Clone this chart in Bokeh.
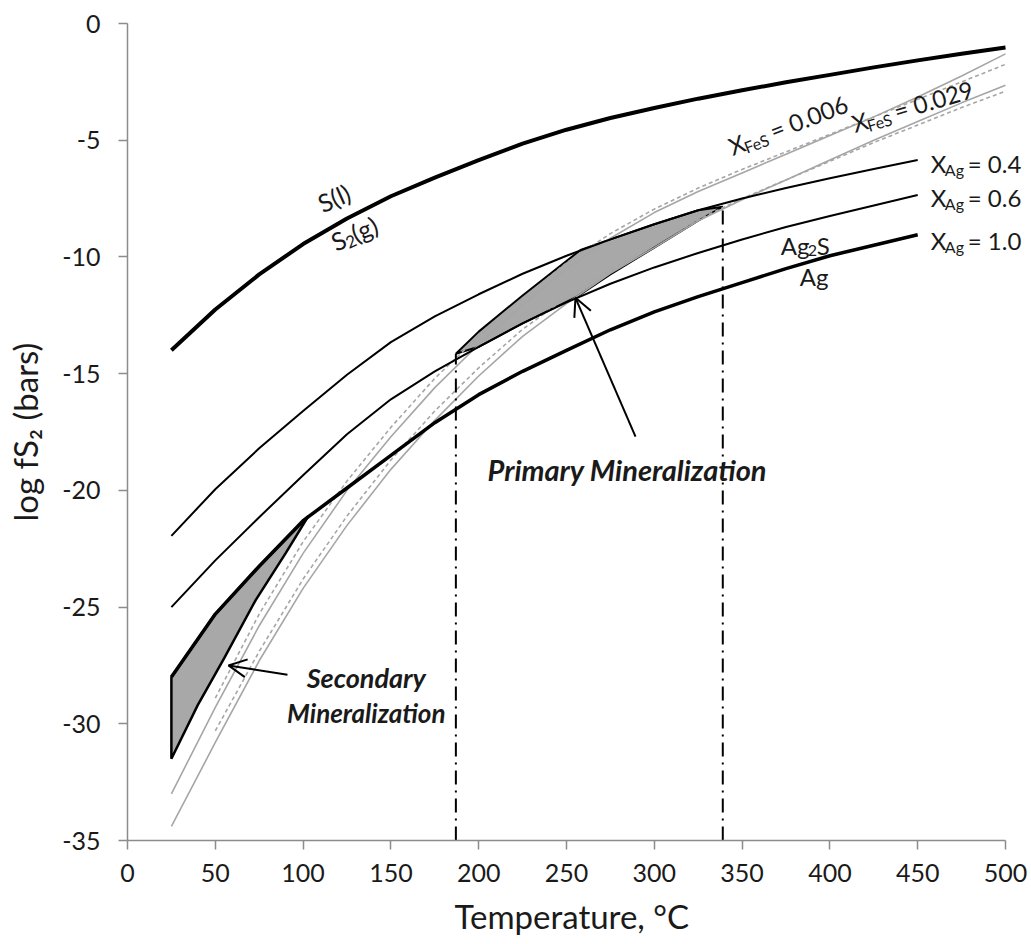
import math
from bokeh.plotting import figure
from bokeh.models import Range1d, Arrow, OpenHead, FixedTicker, Label, Title
from bokeh.embed import file_html
from bokeh.resources import INLINE

# ---------------- data ----------------
x_ticks = [0, 50, 100, 150, 200, 250, 300, 350, 400, 450, 500]
y_ticks = [0, -5, -10, -15, -20, -25, -30, -35]
y_tick_labels = ["0", "-5", "-10", "-15", "-20", "-25", "-30", "-35"]

temp_s = [25, 50, 75, 100, 125, 150, 175, 200, 225, 250, 275, 300, 325, 350, 375, 400, 425, 450, 475, 500]
s_liquid_gas = [-14.0, -12.25, -10.75, -9.45, -8.35, -7.4, -6.6, -5.85, -5.15, -4.55, -4.05, -3.62,
                -3.22, -2.86, -2.52, -2.2, -1.88, -1.58, -1.3, -1.03]

temp_ag = [25, 50, 75, 100, 125, 150, 175, 200, 225, 250, 275, 300, 325, 350, 375, 400, 425, 450]
x_ag_04 = [-21.95, -19.95, -18.2, -16.6, -15.05, -13.65, -12.55, -11.6, -10.72, -9.95, -9.25, -8.6,
           -8.0, -7.5, -7.05, -6.63, -6.23, -5.85]
x_ag_06 = [-25.0, -23.0, -21.15, -19.35, -17.6, -16.1, -14.9, -13.85, -12.85, -11.95, -11.15, -10.45,
           -9.83, -9.25, -8.72, -8.25, -7.8, -7.35]
x_ag_10 = [-28.0, -25.3, -23.25, -21.3, -19.9, -18.5, -17.1, -15.9, -14.9, -14.0, -13.12, -12.35,
           -11.7, -11.1, -10.5, -9.95, -9.5, -9.05]

temp_fes = [25, 50, 75, 100, 125, 150, 175, 200, 225, 250, 275, 300, 325, 350, 375, 400, 425, 450, 475, 500]
fes_0006 = [-33.0, -29.3, -25.8, -22.7, -20.0, -17.7, -15.6, -13.75, -12.05, -10.5, -9.2, -8.1,
            -7.2, -6.4, -5.6, -4.8, -4.0, -3.15, -2.25, -1.3]
fes_0029 = [-34.4, -30.8, -27.3, -24.2, -21.5, -19.1, -17.0, -15.1, -13.4, -12.0, -10.7, -9.6,
            -8.45, -7.55, -6.7, -5.85, -5.0, -4.2, -3.4, -2.65]
temp_fes_d = [50, 75, 100, 125, 150, 175, 200, 225, 250, 275, 300, 325, 350, 375, 400, 425, 450, 475, 500]
fes_0006_d = [-28.9, -25.3, -22.2, -19.6, -17.3, -15.2, -13.4, -11.8, -10.25, -9.0, -7.95, -7.05,
              -6.25, -5.5, -4.75, -4.0, -3.25, -2.5, -1.75]
fes_0029_d = [-30.3, -26.9, -23.8, -21.1, -18.7, -16.6, -14.75, -13.1, -11.75, -10.55, -9.45, -8.4,
              -7.5, -6.7, -5.9, -5.1, -4.35, -3.6, -2.9]

primary_t = [187, 200, 225, 258, 275, 300, 325, 339, 325, 300, 275, 256, 225, 200, 187]
primary_y = [-14.15, -13.2, -11.65, -9.7, -9.25, -8.6, -8.0, -7.85, -8.45, -9.6, -10.75, -11.7,
             -12.85, -13.85, -14.15]
secondary_t = [25, 50, 75, 103, 90, 73, 55, 40, 25]
secondary_y = [-28.0, -25.3, -23.25, -21.1, -22.7, -24.7, -27.2, -29.2, -31.5]

bound_t = [187, 339]
bound_top = [-14.15, -7.85]

FONT = "Lato"
W, H = 1031, 944
L, T, B = 127, 23, 102
X_AXIS_END = 500
PX_X = (1005 - L) / 500.0            # pixels per degree
X_VIEW_END = (W - L) / PX_X          # frame runs to the canvas edge so labels are not clipped
PX_Y = (H - T - B) / 35.0

p = figure(width=W, height=H, x_range=Range1d(0, X_VIEW_END), y_range=Range1d(-35, 0),
           output_backend="svg", toolbar_location=None,
           min_border_left=L, min_border_right=0, min_border_top=T, min_border_bottom=B)
p.outline_line_color = None
p.grid.visible = False
p.background_fill_color = "white"

for ax in (p.xaxis[0], p.yaxis[0]):
    ax.axis_line_color = "#8c8c8c"
    ax.axis_line_width = 1.5
    ax.major_tick_line_color = "#8c8c8c"
    ax.major_tick_line_width = 1.5
    ax.major_tick_out = 9
    ax.major_tick_in = 0
    ax.minor_tick_line_color = None
    ax.major_label_text_font = FONT
    ax.major_label_text_font_size = "25px"
    ax.major_label_text_color = "#1a1a1a"
    ax.axis_label_text_font = FONT
    ax.axis_label_text_font_size = "33px"
    ax.axis_label_text_font_style = "normal"
    ax.axis_label_text_color = "#1a1a1a"

p.xaxis.bounds = (0, X_AXIS_END)
p.xaxis.ticker = FixedTicker(ticks=x_ticks)
p.yaxis.ticker = FixedTicker(ticks=y_ticks)
p.yaxis.major_label_overrides = {t: s for t, s in zip(y_ticks, y_tick_labels)}
p.yaxis.axis_label = "log fS\u2082 (bars)"
p.xaxis.major_label_standoff = 14
p.yaxis.major_label_standoff = 18
p.yaxis.axis_label_standoff = 14

# x-axis title, centred under the 0-500 axis (not under the wider frame)
x_title = Title(text="Temperature, °C", align="left", offset=327, standoff=18,
                text_font=FONT, text_font_size="33px", text_font_style="normal",
                text_line_height=0.6, text_color="#1a1a1a")
p.add_layout(x_title, "below")

# polygons
p.patch(primary_t, primary_y, fill_color="#a8a8a8", line_color="black", line_width=2)
p.patch(secondary_t, secondary_y, fill_color="#a8a8a8", line_color="black", line_width=2.5)

# grey FeS lines
GREY = "#a6a6a6"
p.line(temp_fes, fes_0006, line_color=GREY, line_width=1.6)
p.line(temp_fes, fes_0029, line_color=GREY, line_width=1.6)
p.line(temp_fes_d, fes_0006_d, line_color=GREY, line_width=1.6, line_dash="4 3")
p.line(temp_fes_d, fes_0029_d, line_color=GREY, line_width=1.6, line_dash="4 3")

# black lines
p.line(temp_ag, x_ag_04, line_color="black", line_width=2)
p.line(temp_ag, x_ag_06, line_color="black", line_width=2)
p.line(temp_ag, x_ag_10, line_color="black", line_width=3.5)
p.line(temp_s, s_liquid_gas, line_color="black", line_width=4)

# dash-dot boundaries
for t, top in zip(bound_t, bound_top):
    p.line([t, t], [-35, top], line_color="black", line_width=2, line_dash="14 6 2 6")

# arrows
p.add_layout(Arrow(end=OpenHead(size=18, line_width=2, line_color="black"),
                   x_start=289.3, y_start=-17.7, x_end=255.1, y_end=-11.75,
                   line_width=2, line_color="black"))
p.add_layout(Arrow(end=OpenHead(size=18, line_width=2, line_color="black"),
                   x_start=91.1, y_start=-27.9, x_end=57.5, y_end=-27.5,
                   line_width=2, line_color="black"))


def txt(x, y, s, size, align="left", style="normal", angle=0.0, dx=0.0, dy=0.0):
    """x, y data anchor; dx, dy pixel offsets along / across the (rotated) baseline."""
    a = math.radians(angle)
    ox = dx * math.cos(a) - dy * math.sin(a)
    oy = dx * math.sin(a) + dy * math.cos(a)
    p.add_layout(Label(x=x + ox / PX_X, y=y + oy / PX_Y, text=s, angle=a,
                       text_font=FONT, text_font_size=f"{size}px", text_font_style=style,
                       text_color="#1a1a1a", text_align=align, text_baseline="alphabetic"))

S = 24
SUB = 16
# S(l) / S2(g)
txt(109.0, -7.75, "S(l)", 25, angle=24)
txt(116.5, -9.4, "S", 25, angle=24)
txt(116.5, -9.4, "2", 17, angle=24, dx=13, dy=-6)
txt(116.5, -9.4, "(g)", 25, angle=24, dx=22)

# X_FeS labels
for (x0, y0, ang, val) in [(342.8, -5.3, 21, "= 0.006"), (412.7, -4.3, 16.5, "= 0.029")]:
    txt(x0, y0, "X", S, angle=ang)
    txt(x0, y0, "FeS", SUB, angle=ang, dx=14, dy=-6)
    txt(x0, y0, val, S, angle=ang, dx=44)

# X_Ag labels
for yy, val in [(-6.0, "= 0.4"), (-7.45, "= 0.6"), (-9.3, "= 1.0")]:
    txt(457.5, yy, "X", S)
    txt(457.5, yy, "Ag", SUB, dx=14, dy=-6)
    txt(509.0, yy, val, S, align="right")

# Ag2S / Ag
txt(372.0, -9.5, "Ag", S)
txt(372.0, -9.5, "2", SUB, dx=27, dy=-5)
txt(372.0, -9.5, "S", S, dx=36)
txt(391.0, -10.85, "Ag", S, align="center")

txt(205.0, -19.1, "Primary Mineralization", 29, style="bold italic")
txt(136.0, -28.0, "Secondary", 27, align="center", style="bold italic")
txt(136.0, -29.55, "Mineralization", 26, align="center", style="bold italic")

open("out.html", "w").write(file_html(p, INLINE))
